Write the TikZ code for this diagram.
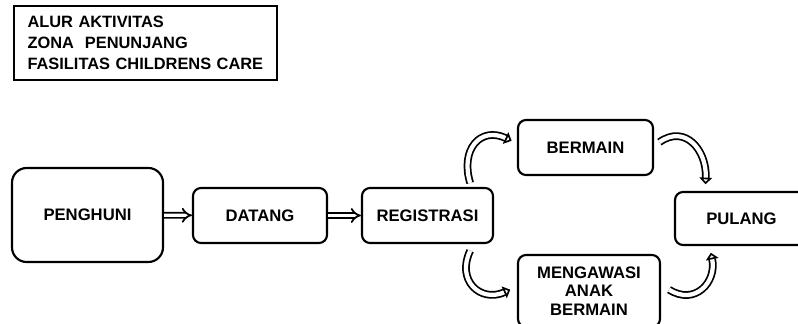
\documentclass[tikz,border=0pt]{standalone}
\usepackage{fontspec}
\setmainfont{Liberation Sans}
\usetikzlibrary{arrows.meta}

\begin{document}
\begin{tikzpicture}[x=0.75pt,y=-0.75pt,
	flow_node/.style={draw,rounded corners=6pt,line width=1.6pt,align=center,
		font=\fontsize{12.5}{14}\selectfont\bfseries,inner sep=0pt},
	flow_arrow/.style={double,double distance=2.4pt,line width=1.3pt,-{Implies}},
	curve_arrow/.style={double,double distance=3.2pt,line width=1.3pt,
		-{Triangle[open,length=5pt,width=9.5pt]}}]

		\clip (0,0) rectangle (798,324);

		\node[draw,line width=1.1pt,minimum width=197.25pt,minimum height=55.5pt,
			inner xsep=9.75pt,text width=177pt,align=left,
			font=\fontsize{12.3}{15.75}\selectfont\bfseries] (title) at (145.5,43)
			{ALUR AKTIVITAS\\ZONA\ \ PENUNJANG\\FASILITAS CHILDRENS CARE};

		\node[flow_node,rounded corners=11pt,minimum width=113.25pt,minimum height=70.5pt] (penghuni) at (87.5,215) {PENGHUNI};
		\node[flow_node,minimum width=100.5pt,minimum height=41.25pt] (datang) at (260,215.5) {DATANG};
		\node[flow_node,minimum width=98.25pt,minimum height=41.25pt] (registrasi) at (427.5,215.5) {REGISTRASI};
		\node[flow_node,minimum width=101.25pt,minimum height=41.25pt] (bermain) at (585.5,147.5) {BERMAIN};
		\node[flow_node,minimum width=99.75pt,minimum height=39.75pt] (pulang) at (741.5,218.5) {PULANG};
		\node[flow_node,minimum width=106.5pt,minimum height=54pt] (mengawasi) at (589,291) {MENGAWASI\\ANAK\\BERMAIN};

		\draw[flow_arrow] (penghuni) -- (datang);
		\draw[flow_arrow] (datang) -- (registrasi);

		\draw[curve_arrow] ([xshift=32pt,yshift=3pt]registrasi.north) .. controls (460,150) and (480,126) .. ([xshift=-4pt,yshift=5pt]bermain.west);
		\draw[curve_arrow] ([xshift=4pt,yshift=4pt]bermain.east) .. controls (685,124) and (707,150) .. ([xshift=-27pt,yshift=5pt]pulang.north);
		\draw[curve_arrow] ([xshift=32pt,yshift=-5pt]registrasi.south) .. controls (456,280) and (480,303) .. ([xshift=-5pt,yshift=1pt]mengawasi.west);
		\draw[curve_arrow] ([xshift=6pt,yshift=1pt]mengawasi.east) .. controls (695,306) and (717,282) .. ([xshift=-23pt,yshift=-5pt]pulang.south);
		\end{tikzpicture}
\end{document}
